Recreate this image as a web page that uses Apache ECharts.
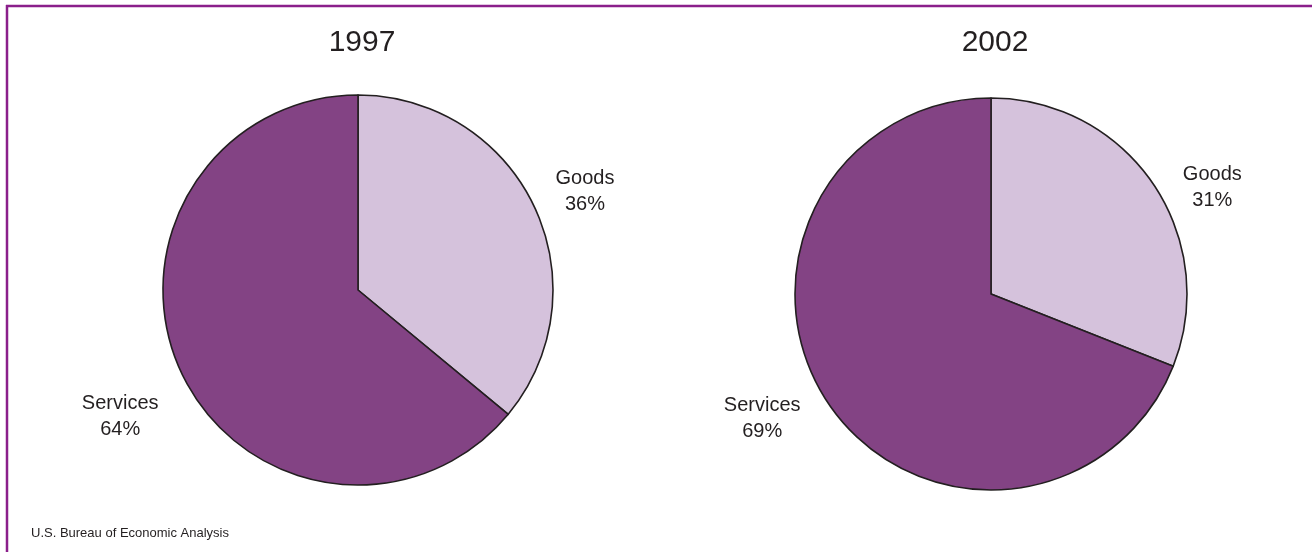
<!DOCTYPE html>
<html>
<head>
<meta charset="utf-8">
<script src="https://cdn.jsdelivr.net/npm/echarts@6/dist/echarts.min.js"></script>
<style>
html,body{margin:0;padding:0;background:#fff;}
#chart{width:1312px;height:552px;}
</style>
</head>
<body>
<div id="chart"></div>
<script>
// Data
const years = ['1997', '2002'];
const categories = ['Goods', 'Services'];
const shares1997 = [36, 64];
const shares2002 = [31, 69];
const source = 'U.S. Bureau of Economic Analysis';

const colors = ['#d5c2dc', '#834384'];
const textColor = '#231f20';
const font = '"Liberation Sans", Arial, Helvetica, sans-serif';

// label placement tweaks (radial length, horizontal length) per slice
const labelLen1997 = [[37, -28], [101, -75]];
const labelLen2002 = [[-7, 20], [25, 1]];

function makeData(values, lens) {
  return categories.map((c, i) => ({
    name: c,
    value: values[i],
    itemStyle: { color: colors[i] },
    labelLine: { show: false, length: lens[i][0], length2: lens[i][1] }
  }));
}

const labelCfg = {
  show: true,
  position: 'outside',
  alignTo: 'none',
  distanceToLabelLine: 5,
  formatter: '{a|{b}}\n{a|{c}%}',
  rich: {
    a: { width: 80, align: 'center', fontSize: 20, lineHeight: 26, color: textColor, fontFamily: font }
  }
};

function pieSeries(values, lens, center, radius) {
  return {
    type: 'pie',
    center: center,
    radius: radius,
    startAngle: 90,
    clockwise: true,
    avoidLabelOverlap: false,
    silent: true,
    animation: false,
    itemStyle: { borderColor: textColor, borderWidth: 1.6 },
    label: labelCfg,
    labelLine: { show: false },
    emphasis: { disabled: true },
    data: makeData(values, lens)
  };
}

const titleStyle = { fontSize: 30, fontWeight: 'normal', color: textColor, fontFamily: font };

const chart = echarts.init(document.getElementById('chart'), null, { renderer: 'canvas' });
chart.setOption({
  backgroundColor: '#fff',
  animation: false,
  title: [
    { text: years[0], left: 362, top: 43, textAlign: 'center', textVerticalAlign: 'middle', padding: 0,
      textStyle: titleStyle },
    { text: years[1], left: 995, top: 43, textAlign: 'center', textVerticalAlign: 'middle', padding: 0,
      textStyle: titleStyle },
    { text: source, left: 31, top: 527, padding: 0,
      textStyle: { fontSize: 13, fontWeight: 'normal', color: textColor, fontFamily: font } }
  ],
  graphic: [
    { type: 'line', shape: { x1: 6, y1: 6, x2: 1312, y2: 6 }, style: { stroke: '#8b1f8b', lineWidth: 2.5 } },
    { type: 'line', shape: { x1: 7, y1: 5, x2: 7, y2: 552 }, style: { stroke: '#8b1f8b', lineWidth: 2.5 } }
  ],
  series: [
    pieSeries(shares1997, labelLen1997, [358, 290], 195),
    pieSeries(shares2002, labelLen2002, [991, 294], 196)
  ]
});
</script>
</body>
</html>
